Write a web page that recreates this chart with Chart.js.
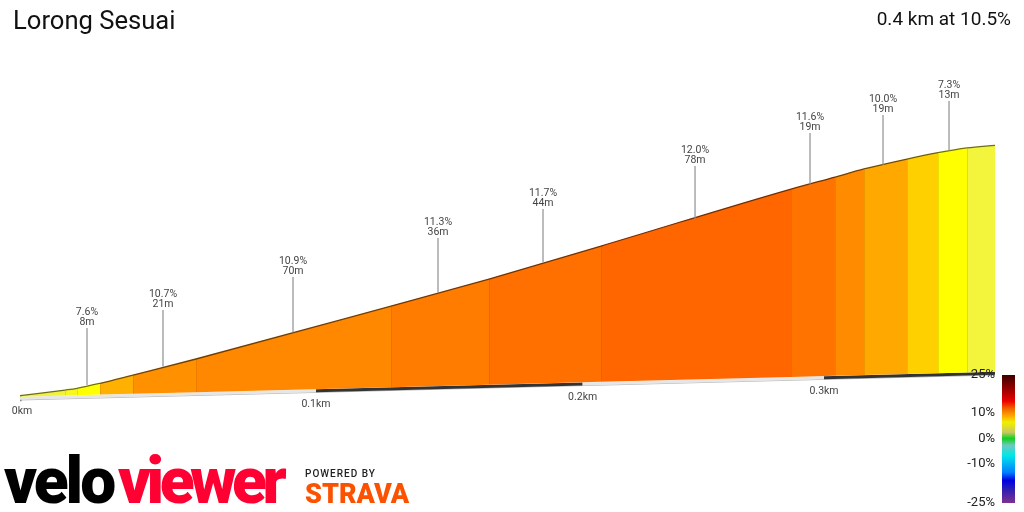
<!DOCTYPE html>
<html>
<head>
<meta charset="utf-8">
<title>Lorong Sesuai</title>
<script src="https://cdn.jsdelivr.net/npm/chart.js@4/dist/chart.umd.js"></script>
<style>html,body{margin:0;padding:0;background:#fff}canvas{display:block}</style>
</head>
<body>
<canvas id="c" width="1024" height="512"></canvas>
<script>
const titleText = 'Lorong Sesuai';
const summaryText = '0.4 km at 10.5%';

// Profile: distance along the climb (km) with the height of the road and of the ground line (m)
const segmentKm = [0,0.014525,0.018437,0.025983,0.03692,0.058163,0.127116,0.163723,0.207285,0.285746,0.304798,0.317532,0.336708,0.350757,0.364063,0.377052];
const roadElev  = [0.38,1.33,1.62,2.45,3.83,6.5,15.33,19.83,25.33,34.83,36.83,38.17,39.83,40.88,41.67,42.12];
const groundElev= [0.22,0.42,0.47,0.57,0.70,0.97,1.80,2.22,2.70,3.52,3.70,3.82,4.00,4.13,4.27,4.38];
const segmentColors = ['#f0f23c','#f8f820','#ffff00','#ffb000','#ff9000','#ff8800','#ff7c00','#ff7000','#ff6600','#ff7300','#ff8c00','#ffa800','#ffd000','#ffff00','#f2f53c'];

// Callouts
const calloutGrade = ['7.6%','10.7%','10.9%','11.3%','11.7%','12.0%','11.6%','10.0%','7.3%'];
const calloutLen   = ['8m','21m','70m','36m','44m','78m','19m','19m','13m'];
const calloutKm    = [0.02171,0.04697,0.09184,0.1445,0.18449,0.24536,0.29393,0.32597,0.35579];
const calloutBase  = [2.17,5.25,10.92,17.55,22.62,29.83,35.58,38.83,41.22];
const calloutTop   = [11.67,14.67,20.17,26.67,31.5,38.67,44.17,47.17,49.5];

// Distance axis band
const tickKm = [0,0.1,0.2,0.3];
const tickLabels = ['0km','0.1km','0.2km','0.3km'];
const bandKm = [0,0.1,0.2,0.3,0.377052];
const bandElev = [0.22,1.48,2.62,3.65,4.38];
const bandColors = ['#e6e6e6','#333333','#e6e6e6','#333333'];

// Gradient legend
const gradeTicks = ['25%','10%','0%','-10%','-25%'];
const gradeTickY = [375,413.2,439.2,464.2,503];
const gradeStopValues = [25,17.2,14.8,12,9.3,6.5,2.6,0.2,-2.5,-6.4,-13,-16.2,-20,-25];
const gradeStopColors = ['#3c0000','#c00000','#ee0000','#f06000','#ffa000','#f0f000','#c8c860','#10d020','#70c8c0','#00e8e8','#0080ff','#0000e0','#3020b0','#803090'];

class PerspectiveScale extends Chart.LinearScale {
  getPixelForValue(v) {
    const d = this.options.depth, M = this.max;
    return this.getPixelForDecimal(v * (1 + d * M) / (M * (1 + d * v)));
  }
  getValueForPixel(p) {
    const d = this.options.depth, M = this.max, f = this.getDecimalForPixel(p);
    return f * M / (1 + d * M - f * M * d);
  }
}
PerspectiveScale.id = 'perspective';
PerspectiveScale.defaults = Chart.LinearScale.defaults;
Chart.register(PerspectiveScale);

function darker(hex, k) {
  const n = parseInt(hex.slice(1), 16);
  return `rgb(${(n >> 16) * k | 0},${((n >> 8) & 255) * k | 0},${(n & 255) * k | 0})`;
}
const zip = (xs, ys) => xs.map((x, i) => ({x, y: ys[i]}));
const leaderData = [];
calloutKm.forEach((x, i) => {
  leaderData.push({x, y: calloutBase[i]}, {x, y: calloutTop[i]}, {x, y: null});
});

const annotate = {
  id: 'annotate',
  afterDatasetsDraw(chart) {
    const {ctx, scales: {x, y}} = chart;
    ctx.save();
    // seams between gradient sections
    ctx.strokeStyle = 'rgba(150,80,0,0.18)';
    ctx.lineWidth = 1;
    segmentKm.slice(1, -1).forEach((k, i) => {
      const px = Math.round(x.getPixelForValue(k)) + 0.5;
      ctx.beginPath();
      ctx.moveTo(px, y.getPixelForValue(roadElev[i + 1]) + 1);
      ctx.lineTo(px, y.getPixelForValue(groundElev[i + 1]));
      ctx.stroke();
    });
    // callouts
    ctx.textAlign = 'center';
    ctx.textBaseline = 'middle';
    ctx.font = '10.5px Roboto';
    ctx.fillStyle = '#444';
    calloutKm.forEach((k, i) => {
      const px = x.getPixelForValue(k), py = y.getPixelForValue(calloutTop[i]);
      ctx.fillText(calloutGrade[i], px, py - 15.5);
      ctx.fillText(calloutLen[i], px, py - 5.5);
    });
    // distance ticks
    tickKm.forEach((k, i) => {
      const g = bandKm.indexOf(k);
      const px = x.getPixelForValue(k) + (k === 0 ? 2 : 0);
      ctx.fillText(tickLabels[i], px, y.getPixelForValue(bandElev[g]) + 15);
    });
    // titles
    ctx.fillStyle = '#111';
    ctx.textBaseline = 'alphabetic';
    ctx.textAlign = 'left';
    ctx.font = '25.6px Roboto';
    ctx.fillText(titleText, 13, 29);
    ctx.textAlign = 'right';
    ctx.font = '19px Roboto';
    ctx.fillText(summaryText, 1011, 25);
    // gradient legend
    const gy = g => 375 + (25 - g) * 128 / 50;
    const grad = ctx.createLinearGradient(0, 375, 0, 503);
    gradeStopValues.forEach((g, i) => grad.addColorStop((gy(g) - 375) / 128, gradeStopColors[i]));
    ctx.fillStyle = grad;
    ctx.fillRect(1002, 375, 13, 128);
    ctx.fillStyle = '#222';
    ctx.textBaseline = 'middle';
    ctx.font = '13px Roboto';
    gradeTicks.forEach((t, i) => ctx.fillText(t, 995, gradeTickY[i]));
    // logos
    ctx.textAlign = 'left';
    ctx.textBaseline = 'alphabetic';
    ctx.font = '900 64px Roboto';
    ctx.letterSpacing = '-3px';
    ctx.fillStyle = '#000';
    ctx.fillText('velo', 4, 503);
    ctx.letterSpacing = '-4.5px';
    ctx.fillStyle = '#ff0033';
    ctx.fillText('viewer', 118, 503);
    ctx.letterSpacing = '1px';
    ctx.fillStyle = '#222';
    ctx.font = '500 10px Roboto';
    ctx.fillText('POWERED BY', 305, 477);
    ctx.letterSpacing = '0px';
    ctx.fillStyle = '#fc5200';
    ctx.font = '900 27px Roboto';
    ctx.fillText('STRAVA', 305, 503);
    ctx.restore();
  }
};

new Chart(document.getElementById('c'), {
  type: 'line',
  data: {
    datasets: [
      {
        label: 'Callout leaders',
        data: leaderData,
        borderColor: '#909090',
        borderWidth: 1.2,
        pointRadius: 0,
        spanGaps: false,
        fill: false
      },
      {
        label: 'Road',
        data: zip(segmentKm, roadElev),
        pointRadius: 0,
        borderWidth: 1.3,
        borderColor: '#6b3a00',
        backgroundColor: segmentColors[0],
        fill: '+1',
        cubicInterpolationMode: 'monotone',
        segment: {
          backgroundColor: c => segmentColors[c.p0DataIndex],
          borderColor: c => darker(segmentColors[c.p0DataIndex], 0.45)
        }
      },
      {
        label: 'Ground',
        data: zip(segmentKm, groundElev),
        pointRadius: 0,
        borderWidth: 0,
        fill: false
      },
      {
        label: 'Distance band',
        data: zip(bandKm, bandElev.map(v => v - 0.27)),
        pointRadius: 0,
        borderWidth: 3,
        borderColor: '#e6e6e6',
        fill: false,
        segment: {borderColor: c => bandColors[c.p0DataIndex]}
      },
      {
        label: 'Band edge',
        data: zip(bandKm, bandElev.map(v => v - 0.55)),
        pointRadius: 0,
        borderWidth: 0.8,
        borderColor: '#aaa',
        fill: false
      },
      {
        label: 'Start cap',
        data: zip([0, 0], [0.5, -0.55]),
        pointRadius: 0,
        borderWidth: 3,
        borderColor: '#777',
        fill: false
      }
    ]
  },
  options: {
    responsive: false,
    animation: false,
    devicePixelRatio: 1,
    layout: {padding: {left: 20, right: 29, top: 0, bottom: 0}},
    scales: {
      x: {type: 'perspective', depth: 0.551, min: 0, max: 0.377052, display: false},
      y: {type: 'linear', min: -19, max: 66.3333, display: false}
    },
    plugins: {legend: {display: false}, tooltip: {enabled: false}, title: {display: false}}
  },
  plugins: [annotate]
});
</script>
</body>
</html>
